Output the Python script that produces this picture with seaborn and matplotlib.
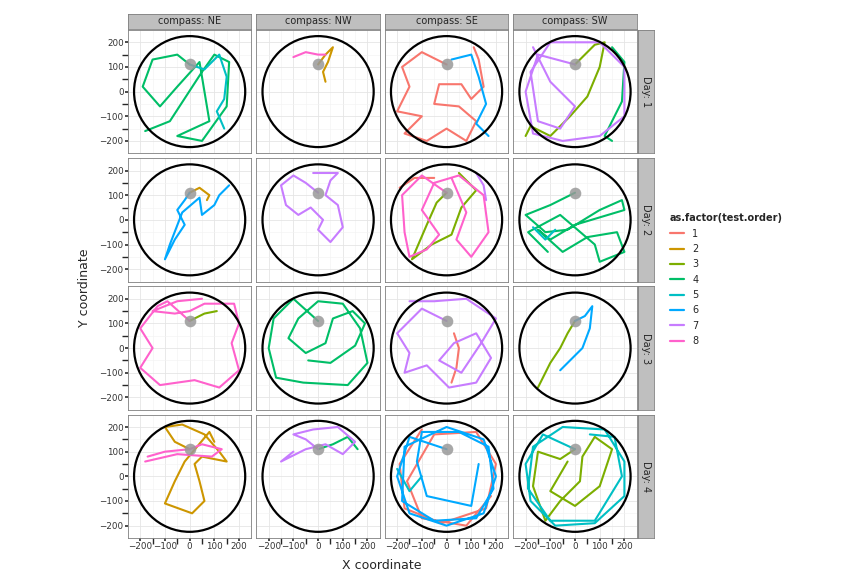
import numpy as np
import pandas as pd
import seaborn as sns
import matplotlib.pyplot as plt
from matplotlib.lines import Line2D
from matplotlib.patches import Circle

compasses = ['NE', 'NW', 'SE', 'SW']
days = [1, 2, 3, 4]
orders = [1, 2, 3, 4, 5, 6, 7, 8]
colors = ['#F8766D', '#CD9600', '#7CAE00', '#00BE67', '#00BFC4', '#00A9FF', '#C77CFF', '#FF61CC']
ticks = [-200, -100, 0, 100, 200]
start = (0, 110)

# (compass, order, xs, ys), one list per day
day1_tracks = [
    ('NE', 4, [0, -50, -150, -190, -120, -50, 40, 80, -50, 50, 150, 160, 100, 50, -80, -180],
              [110, 150, 130, 20, -60, 20, 120, -120, -180, -200, -60, 120, 150, 80, -120, -160]),
    ('NE', 5, [0, 60, 120, 150, 140, 110, 140], [110, 90, 150, 60, -30, -80, -150]),
    ('NW', 2, [0, 30, 60, 40, 20, 30], [110, 150, 180, 120, 80, 40]),
    ('NW', 8, [-100, -50, 0, 30], [140, 160, 150, 150]),
    ('SE', 1, [0, -100, -180, -150, -200, -100, -170, -80, 0, 80, 120, 50, -50, -30, 60, 100, 150, 130, 110],
              [110, 160, 100, 20, -80, -100, -170, -200, -150, -200, -120, -60, -50, 30, 30, -30, 20, 130, 180]),
    ('SE', 6, [20, 100, 130, 160, 120, 170], [130, 150, 60, -50, -130, -180]),
    ('SW', 7, [0, -150, -200, -170, -50, 100, 200, 200, 100, -100, -180, -150, -60, 0, -100, -170],
              [110, 150, 0, -170, -200, -180, -100, 100, 200, 200, 80, -120, -150, -60, 40, 180]),
    ('SW', 3, [0, 80, 120, 100, 50, -20, -100, -180, -200], [110, 190, 200, 100, -20, -100, -180, -140, -180]),
    ('SW', 4, [150, 200, 190, 120, 150], [180, 120, -40, -180, -200]),
]
day2_tracks = [
    ('NE', 6, [0, -20, -50, -20, -60, -100, -80, -30, 40, 50, 100, 120, 160],
              [110, 80, 40, -20, -80, -160, -100, 30, 90, 20, 60, 100, 140]),
    ('NE', 2, [0, 40, 80, 70], [110, 130, 100, 80]),
    ('NW', 7, [0, -50, -100, -150, -130, -80, -30, 20, 0, 50, 100, 80, 30, 50, 80, -20],
              [110, 150, 180, 140, 60, 20, 50, 0, -40, -90, -30, 60, 100, 160, 190, 190]),
    ('SE', 8, [0, -100, -180, -170, -150, -80, -30, -100, -50, 50, 150, 170, 100, 40, 80, 20],
              [110, 180, 100, -50, -150, -120, -60, 40, 150, 180, 100, -50, -150, -80, 30, 170]),
    ('SE', 3, [0, -40, -80, -140, -60, 20, 60, 120, 50], [110, 70, -20, -160, -100, -60, 50, 120, 190]),
    ('SE', 1, [-50, -130, -190], [170, 170, 130]),
    ('SE', 7, [120, 150, 160], [190, 140, 80]),
    ('SW', 4, [0, -100, -200, -120, -30, 100, 190, 200, 0, -100, -150, -50, 50, 170, 200, 100, 80, -60, -190, -110],
              [110, 60, 20, -50, -40, 40, 80, 40, -20, -80, -40, -130, -70, -50, -130, -170, -100, 20, -50, -130]),
    ('SW', 5, [-170, -120, -80], [-30, -80, -40]),
]
day3_tracks = [
    ('NE', 8, [0, -90, -130, -200, -150, -200, -120, 20, 120, 200, 170, 200, 180, 60, 0, -60, -150, -50, 50],
              [110, 190, 170, 80, 0, -80, -150, -130, -160, -90, 20, 100, 180, 180, 150, 140, 150, 190, 200]),
    ('NE', 3, [0, 60, 110], [110, 140, 150]),
    ('NW', 4, [0, -100, -180, -200, -170, -60, 120, 200, 170, 100, 0, -80, -120, -50, 30, 60, 140, 190, 150, 50, -40],
              [110, 200, 120, 0, -120, -140, -150, -60, 80, 180, 190, 120, 40, -20, 20, 120, 150, 100, 10, -60, -50]),
    ('SE', 7, [0, -100, -200, -150, -170, -80, 10, 120, 180, 120, 30, -30, 60, 140, 200, 80, -50, -150],
              [110, 160, 60, -20, -100, -70, -160, -140, -40, 60, 20, -50, -100, 20, 120, 200, 190, 190]),
    ('SE', 1, [30, 50, 40, 20], [60, 0, -80, -140]),
    ('SW', 3, [0, -30, -60, -100, -130, -150], [110, 60, 0, -60, -120, -160]),
    ('SW', 6, [0, 40, 70, 60, 30, -20, -60], [110, 130, 170, 80, 0, -50, -90]),
]
day4_tracks = [
    ('NE', 2, [0, -60, -100, -30, 60, 120, 150, 50, 20, 40, 60, 10, -100, -60, -20, 80, 100],
              [110, 140, 200, 210, 170, 100, 60, 80, 50, -20, -100, -150, -110, -20, 60, 180, 140]),
    ('NE', 8, [-170, -100, 0, 50, 130, 90, -50, -180], [80, 100, 110, 130, 110, 80, 90, 60]),
    ('NW', 7, [0, -50, -100, -20, 80, 150, 100, 30, -50, -150, -100],
              [110, 150, 170, 190, 200, 140, 90, 130, 110, 60, 100]),
    ('NW', 4, [0, 60, 120, 160], [110, 130, 160, 110]),
    ('SE', 6, [0, -150, -200, -150, 0, 150, 200, 150, 0, -170, -180, -50, 120, 190, 170, 50, -100, -120, -80, 100, 130],
              [110, 160, 0, -150, -200, -150, 0, 150, 200, 120, -100, -180, -170, -50, 120, 180, 180, 60, -80, -120, 50]),
    ('SE', 1, [-100, -190, -170, -20, 160, 200, 120, -50, -160, -100, 80, 180],
              [190, 50, -130, -190, -130, 50, 180, 170, -20, -170, -200, -80]),
    ('SE', 5, [-200, -150, -100], [30, -60, 0]),
    ('SW', 5, [0, -130, -200, -180, -80, 80, 200, 200, 120, -50, -170, -190, -100, 80, 190, 160, 60],
              [110, 170, 50, -100, -200, -190, -80, 60, 190, 200, 120, -50, -180, -180, 0, 160, 170]),
    ('SW', 3, [0, -60, -150, -170, -120, -60, 20, 30, 80, 150, 100, 0, -100, -30],
              [110, 70, 100, -40, -180, -100, -20, 80, 160, 110, -40, -120, -60, 60]),
]

rows = []
for day, tracks in zip(days, [day1_tracks, day2_tracks, day3_tracks, day4_tracks]):
    for k, (comp, order, xs, ys) in enumerate(tracks):
        for i, (x, y) in enumerate(zip(xs, ys)):
            rows.append({'day': day, 'compass': comp, 'order': order, 'track': k, 'step': i, 'x': x, 'y': y})
df = pd.DataFrame(rows)

sns.set_theme(style='whitegrid')
plt.rcParams['font.family'] = ['DejaVu Sans']
fig, axes = plt.subplots(4, 4, figsize=(8.64, 5.76), dpi=100, sharex=True, sharey=True)
fig.subplots_adjust(left=0.148, right=0.737, top=0.948, bottom=0.066, wspace=0.04, hspace=0.04)
palette = dict(zip(orders, colors))

for r, day in enumerate(days):
    for c, comp in enumerate(compasses):
        ax = axes[r, c]
        sub = df[(df.day == day) & (df.compass == comp)]
        ax.add_patch(Circle((0, 0), 225, fill=False, color='black', lw=1.6, zorder=3))
        if len(sub):
            sns.lineplot(data=sub, x='x', y='y', hue='order', units='track', estimator=None,
                         sort=False, palette=palette, lw=1.5, legend=False, ax=ax, zorder=2)
        ax.scatter([start[0]], [start[1]], s=70, color='#999999', alpha=0.85, zorder=4, lw=0)
        ax.set_xlim(-250, 250)
        ax.set_ylim(-250, 250)
        ax.set_xticks(ticks)
        ax.set_yticks(ticks)
        ax.set_xticks([-150, -50, 50, 150], minor=True)
        ax.set_yticks([-150, -50, 50, 150], minor=True)
        ax.grid(True, which='major', color='#e5e5e5', lw=0.6)
        ax.grid(True, which='minor', color='#f2f2f2', lw=0.4)
        ax.set_xlabel('')
        ax.set_ylabel('')
        ax.tick_params(labelsize=6.3, length=2, pad=1, colors='#333333')
        ax.tick_params(axis='both', which='both', bottom=(r == 3), left=(c == 0))
        for s in ax.spines.values():
            s.set_color('#7f7f7f')
            s.set_linewidth(0.6)
        pos = ax.get_position()
        if r == 0:
            sax = fig.add_axes([pos.x0, pos.y1 + 0.002, pos.width, 0.026])
            sax.set_facecolor('#bfbfbf')
            sax.set_xticks([]); sax.set_yticks([])
            for s in sax.spines.values():
                s.set_color('#7f7f7f'); s.set_linewidth(0.6)
            sax.text(0.5, 0.5, f'compass: {comp}', ha='center', va='center', fontsize=7)
        if c == 3:
            sax = fig.add_axes([pos.x1 + 0.002, pos.y0, 0.018, pos.height])
            sax.set_facecolor('#bfbfbf')
            sax.set_xticks([]); sax.set_yticks([])
            for s in sax.spines.values():
                s.set_color('#7f7f7f'); s.set_linewidth(0.6)
            sax.text(0.5, 0.5, f'Day: {day}', ha='center', va='center', fontsize=7, rotation=-90)

fig.text(0.442, 0.012, 'X coordinate', ha='center', fontsize=9)
fig.text(0.098, 0.5, 'Y coordinate', va='center', ha='center', rotation=90, fontsize=9)

handles = [Line2D([0], [0], color=col, lw=1.6) for col in colors]
leg = fig.legend(handles, [str(o) for o in orders], title='as.factor(test.order)',
                 loc='upper left', bbox_to_anchor=(0.765, 0.645), frameon=False,
                 fontsize=7, handlelength=1.5, labelspacing=0.55,
                 title_fontproperties={'weight': 'bold', 'size': 7})
leg._legend_box.align = 'left'

fig.savefig('out.png', dpi=100)
